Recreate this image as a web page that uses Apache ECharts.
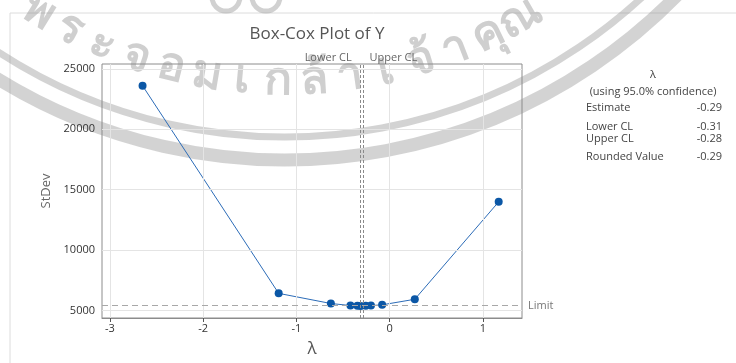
<!DOCTYPE html>
<html>
<head>
<meta charset="utf-8">
<title>Box-Cox Plot of Y</title>
<script src="https://cdn.jsdelivr.net/npm/echarts@6/dist/echarts.min.js"></script>
<style>
  html, body { margin: 0; padding: 0; background: #fff; }
  #chart { width: 736px; height: 363px; }
</style>
</head>
<body>
<div id="chart"></div>
<script>
// Box-Cox: lambda tried and StDev of transformed data at each lambda
const lambdas = [-2.65, -1.19, -0.63, -0.42, -0.345, -0.31, -0.255, -0.2, -0.08, 0.27, 1.17];
const stdevs = [23600, 6410, 5570, 5400, 5380, 5370, 5380, 5400, 5460, 5920, 13990];

const xTicks = [-3, -2, -1, 0, 1];
const yTicks = [5000, 10000, 15000, 20000, 25000];

const lowerCL = -0.31;
const upperCL = -0.28;
const limitStDev = 5390;

// right-hand summary table
const statLabels = ["Estimate", "Lower CL", "Upper CL", "Rounded Value"];
const statValues = ["-0.29", "-0.31", "-0.28", "-0.29"];

// watermark seal letters
const sealLetters = ["พ", "ร", "ะ", "จ", "อ", "ม", "เ", "ก", "ล้", "า", "เ", "จ้", "า", "คุ", "ณ"];

const FONT = "'Open Sans', 'Noto Sans', sans-serif";
const chart = echarts.init(document.getElementById("chart"), null, { renderer: "canvas" });

// seal watermark (decoration only)
const sealCx = 285, sealCy = -389, sealR = 470;
const sealGraphics = [
  { type: "arc", shape: { cx: sealCx, cy: sealCy, r: 526, startAngle: 0.6, endAngle: 2.6 },
    style: { stroke: "rgba(140,140,140,0.38)", lineWidth: 7, fill: null }, silent: true },
  { type: "arc", shape: { cx: sealCx, cy: sealCy, r: 549, startAngle: 0.6, endAngle: 2.6 },
    style: { stroke: "rgba(140,140,140,0.38)", lineWidth: 13, fill: null }, silent: true },
  { type: "circle", shape: { cx: 226, cy: -3, r: 14 },
    style: { stroke: "rgba(140,140,140,0.4)", lineWidth: 5, fill: null }, silent: true },
  { type: "circle", shape: { cx: 266, cy: -3, r: 14 },
    style: { stroke: "rgba(140,140,140,0.4)", lineWidth: 5, fill: null }, silent: true }
];
const a0 = 121.6 * Math.PI / 180, a1 = 60 * Math.PI / 180;
sealLetters.forEach((ch, i) => {
  const t = a0 + (a1 - a0) * i / (sealLetters.length - 1);
  sealGraphics.push({
    type: "text",
    x: sealCx + sealR * Math.cos(t),
    y: sealCy + sealR * Math.sin(t),
    rotation: Math.PI / 2 - t,
    silent: true,
    style: {
      text: ch, fill: "rgba(140,140,140,0.42)",
      font: "bold 46px 'Noto Sans', sans-serif",
      align: "center", verticalAlign: "middle"
    }
  });
});

// summary text on the right
const statY = [108, 127, 139, 157];
const statGraphics = [
  { type: "text", x: 653, y: 75, style: { text: "λ", fill: "#444", font: "11px " + FONT, align: "center", verticalAlign: "middle" } },
  { type: "text", x: 653, y: 92, style: { text: "(using 95.0% confidence)", fill: "#444", font: "11px " + FONT, align: "center", verticalAlign: "middle" } }
];
statLabels.forEach((lab, i) => {
  statGraphics.push({ type: "text", x: 586, y: statY[i], style: { text: lab, fill: "#444", font: "11px " + FONT, align: "left", verticalAlign: "middle" } });
  statGraphics.push({ type: "text", x: 722, y: statY[i], style: { text: statValues[i], fill: "#444", font: "11px " + FONT, align: "right", verticalAlign: "middle" } });
});

const clLine = { color: "#8a8a8a", type: [3, 2], width: 1 };
const clLabel = { show: true, position: "end", distance: 1, color: "#666", fontSize: 11, fontFamily: FONT };

const option = {
  animation: false,
  backgroundColor: "#fff",
  title: {
    text: "Box-Cox Plot of Y",
    left: 312, top: 21, textAlign: "center",
    textStyle: { color: "#555", fontSize: 17, fontWeight: "normal", fontFamily: FONT }
  },
  grid: {
    left: 102, right: 214, top: 64, bottom: 41,
    show: true, borderColor: "#8c8c8c", borderWidth: 1, backgroundColor: "transparent"
  },
  xAxis: {
    type: "value", min: -3.085, max: 1.42,
    name: "λ", nameLocation: "middle", nameGap: 23,
    nameTextStyle: { color: "#555", fontSize: 17, fontFamily: FONT },
    axisLine: { show: true, onZero: false, lineStyle: { color: "#8c8c8c" } },
    axisTick: { show: true, length: 4, customValues: xTicks, lineStyle: { color: "#555" } },
    axisLabel: { customValues: xTicks, margin: 5, color: "#333", fontSize: 11, fontFamily: FONT },
    splitLine: { show: false }
  },
  yAxis: {
    type: "value", min: 4370, max: 25400,
    name: "StDev", nameLocation: "middle", nameGap: 48,
    nameTextStyle: { color: "#666", fontSize: 13, fontFamily: FONT },
    axisLine: { show: true, lineStyle: { color: "#8c8c8c" } },
    axisTick: { show: true, length: 4, customValues: yTicks, lineStyle: { color: "#555" } },
    axisLabel: { customValues: yTicks, margin: 7, color: "#333", fontSize: 11, fontFamily: FONT,
      formatter: v => String(v) },
    splitLine: { show: false }
  },
  graphic: [
    { type: "rect", shape: { x: 10, y: 13, width: 800, height: 400 }, style: { stroke: "#dcdcdc", fill: null, lineWidth: 1 }, silent: true, z: -10 }
  ].concat(sealGraphics, statGraphics),
  series: [
    {
      // reference grid lines at the tick values
      type: "line", data: [], z: 1, silent: true,
      markLine: {
        silent: true, symbol: "none", label: { show: false },
        lineStyle: { color: "#e4e4e4", type: "solid", width: 1 },
        data: xTicks.map(v => ({ xAxis: v })).concat(yTicks.map(v => ({ yAxis: v })))
      }
    },
    {
      type: "line", z: 3,
      data: lambdas.map((l, i) => [l, stdevs[i]]),
      symbol: "circle", symbolSize: 8,
      itemStyle: { color: "#0b57a6" },
      lineStyle: { color: "#2c6cb8", width: 1 },
      markLine: {
        silent: true, symbol: "none",
        data: [
          { xAxis: lowerCL, lineStyle: clLine, label: Object.assign({}, clLabel, { formatter: "Lower CL", align: "right", padding: [0, 9, 0, 0] }) },
          { xAxis: upperCL, lineStyle: clLine, label: Object.assign({}, clLabel, { formatter: "Upper CL", align: "left", padding: [0, 0, 0, 6] }) },
          { yAxis: limitStDev, lineStyle: { color: "#a8a8a8", type: [6, 4], width: 1 },
            label: { show: true, position: "end", distance: 6, formatter: "Limit", color: "#777", fontSize: 11, fontFamily: FONT } }
        ]
      }
    }
  ]
};

chart.setOption(option);
</script>
</body>
</html>
